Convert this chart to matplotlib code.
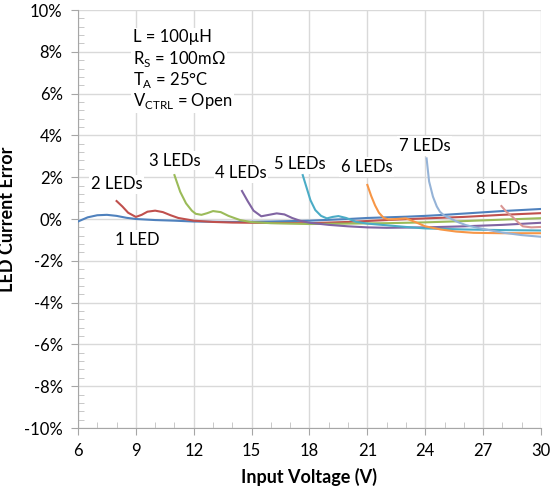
import matplotlib
matplotlib.use("Agg")
import matplotlib.pyplot as plt
from matplotlib.ticker import MultipleLocator, FuncFormatter

plt.rcParams['font.family'] = ['Lato', 'DejaVu Sans']
plt.rcParams['mathtext.fontset'] = 'custom'
plt.rcParams['mathtext.rm'] = 'Lato'

# data (input voltage V, current error %)
v_1led = [6, 6.5, 7, 7.5, 8, 8.5, 9, 10, 11, 12, 13, 14, 15, 16, 17, 18, 19, 20,
          21, 22, 23, 24, 25, 26, 27, 28, 29, 30]
e_1led = [-0.12, 0.08, 0.18, 0.2, 0.15, 0.06, 0.0, -0.05, -0.08, -0.12, -0.13, -0.14,
          -0.13, -0.12, -0.1, -0.08, -0.04, 0.0, 0.05, 0.08, 0.11, 0.15, 0.2, 0.26,
          0.32, 0.38, 0.43, 0.48]

v_2led = [8, 8.3, 8.6, 9.0, 9.3, 9.6, 10.0, 10.4, 10.8, 11.2, 12, 13, 14, 15, 16,
          18, 20, 22, 24, 26, 28, 30]
e_2led = [0.86, 0.6, 0.3, 0.1, 0.2, 0.35, 0.4, 0.33, 0.18, 0.05, -0.08, -0.14, -0.17,
          -0.18, -0.19, -0.2, -0.14, -0.05, 0.03, 0.1, 0.2, 0.28]

v_3led = [11.0, 11.3, 11.6, 11.9, 12.1, 12.4, 12.7, 13.0, 13.4, 13.8, 14.4, 15, 16,
          18, 20, 22, 24, 26, 28, 30]
e_3led = [2.1, 1.3, 0.75, 0.4, 0.25, 0.2, 0.28, 0.38, 0.33, 0.15, -0.05, -0.15, -0.2,
          -0.24, -0.22, -0.2, -0.16, -0.1, -0.03, 0.04]

v_4led = [14.5, 14.8, 15.1, 15.5, 15.9, 16.3, 16.7, 17.1, 17.5, 18, 19, 20, 21, 22,
          24, 26, 28, 30]
e_4led = [1.34, 0.85, 0.4, 0.13, 0.2, 0.27, 0.22, 0.05, -0.08, -0.18, -0.28, -0.35,
          -0.4, -0.42, -0.4, -0.35, -0.28, -0.18]

v_5led = [17.65, 17.85, 18.05, 18.3, 18.6, 18.9, 19.2, 19.5, 19.9, 20.4, 21, 22, 23,
          24, 26, 28, 30]
e_5led = [2.1, 1.5, 0.9, 0.43, 0.15, 0.03, 0.1, 0.14, 0.05, -0.13, -0.22, -0.3,
          -0.38, -0.45, -0.5, -0.53, -0.55]

v_6led = [21.0, 21.2, 21.4, 21.6, 21.85, 22.1, 22.5, 23.0, 23.5, 24.0, 24.8, 25.6,
          26.5, 28, 30]
e_6led = [1.63, 1.1, 0.65, 0.3, 0.05, -0.02, 0.0, 0.03, -0.15, -0.35, -0.5, -0.6,
          -0.66, -0.68, -0.68]

v_7led = [24.07, 24.2, 24.4, 24.6, 24.76, 25.0, 25.3, 25.7, 26.1, 26.7, 27.3, 28,
          29, 30]
e_7led = [2.9, 1.8, 1.07, 0.6, 0.35, 0.15, 0.03, -0.15, -0.29, -0.42, -0.53, -0.65,
          -0.77, -0.85]

v_8led = [27.95, 28.2, 28.55, 28.8, 29.06, 29.5, 30]
e_8led = [0.62, 0.35, 0.08, -0.15, -0.35, -0.4, -0.38]

series = [
    (v_1led, e_1led, "#4F81BD", "1 LED", (9.05, -1.0)),
    (v_2led, e_2led, "#C0504D", "2 LEDs", (8.0, 1.66)),
    (v_3led, e_3led, "#9BBB59", "3 LEDs", (11.03, 2.79)),
    (v_4led, e_4led, "#8064A2", "4 LEDs", (14.45, 2.19)),
    (v_5led, e_5led, "#4BACC6", "5 LEDs", (17.5, 2.63)),
    (v_6led, e_6led, "#F79646", "6 LEDs", (20.97, 2.49)),
    (v_7led, e_7led, "#95B3D7", "7 LEDs", (23.98, 3.49)),
    (v_8led, e_8led, "#D99694", "8 LEDs", (27.95, 1.44)),
]

fig = plt.figure(figsize=(5.5, 4.91), dpi=100)
ax = fig.add_axes([0.1418, 0.1283, 0.8418, 0.8513])

for v, e, color, name, pos in series:
    ax.plot(v, e, color=color, lw=1.5, zorder=3)

box = dict(boxstyle="square,pad=0.1", facecolor="white", edgecolor="none")
for v, e, color, name, pos in series:
    ax.text(pos[0], pos[1], name, ha="center", va="center", fontsize=12,
            color="black", bbox=box, zorder=2)

cond = ["L = 100µH",
        r"R$_{\mathregular{S}}$ = 100mΩ",
        r"T$_{\mathregular{A}}$ = 25°C",
        r"V$_{\mathregular{CTRL}}$ = Open"]
for i, line in enumerate(cond):
    ax.text(8.85, 8.7 - i * 1.02, line, ha="left", va="center", fontsize=12,
            bbox=box, zorder=2)

ax.set_xlim(6, 30)
ax.set_ylim(-10, 10)
ax.xaxis.set_major_locator(MultipleLocator(3))
ax.xaxis.set_minor_locator(MultipleLocator(1))
ax.yaxis.set_major_locator(MultipleLocator(2))
ax.yaxis.set_minor_locator(MultipleLocator(0.4))
ax.yaxis.set_major_formatter(FuncFormatter(lambda y, p: f"{y:.0f}%"))

ax.grid(True, which="major", color="#D9D9D9", lw=1, zorder=0)
ax.set_axisbelow(True)
for s in ["top", "right"]:
    ax.spines[s].set_visible(False)
for s in ["left", "bottom"]:
    ax.spines[s].set_color("#A6A6A6")
ax.tick_params(which="major", direction="out", length=5, color="#A6A6A6",
               labelsize=12, pad=6)
ax.tick_params(which="minor", direction="in", length=4, color="#BFBFBF")

ax.set_xlabel("Input Voltage (V)", fontsize=13, fontweight="bold", labelpad=6)
ax.set_ylabel("LED Current Error", fontsize=13, fontweight="bold", labelpad=6)

fig.savefig("out.png", dpi=100, facecolor="white")
